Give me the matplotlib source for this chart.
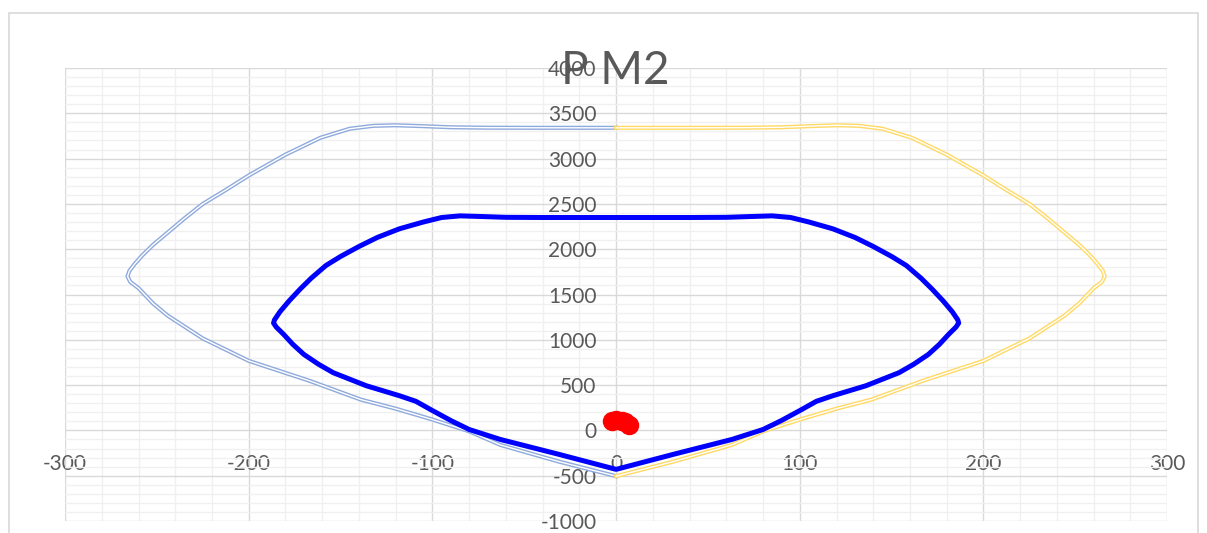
import matplotlib.pyplot as plt
from matplotlib.ticker import MultipleLocator
from matplotlib.patches import Rectangle

# outer curve, left half (M, P)
out_izq_m = [0, -40, -70, -90, -105, -120, -132, -145, -161, -180, -200, -212, -225, -235,
             -244, -252, -258, -262, -265, -266, -264.5, -260, -252, -244, -225, -200,
             -167, -139, -120, -100, -80, -63, -31, 0]
out_izq_p = [3340, 3340, 3341, 3346, 3358, 3368, 3362, 3330, 3230, 3044, 2814, 2660, 2500,
             2340, 2186, 2050, 1931, 1840, 1760, 1700, 1640, 1570, 1400, 1265, 1015, 768,
             548, 340, 240, 120, -10, -160, -345, -505]

# outer curve, right half
out_der_m = [0, 40, 70, 90, 105, 120, 132, 145, 161, 180, 200, 212, 225, 235,
             244, 252, 258, 262, 265, 266, 264.5, 260, 252, 244, 225, 200,
             167, 139, 120, 100, 80, 63, 31, 0]
out_der_p = [3340, 3340, 3341, 3346, 3358, 3368, 3362, 3330, 3230, 3044, 2814, 2660, 2500,
             2340, 2186, 2050, 1931, 1840, 1760, 1700, 1640, 1570, 1400, 1265, 1015, 768,
             548, 340, 240, 120, -10, -160, -345, -505]

# inner (design) curve, left half then right half
int_izq_m = [0, -40, -60, -75, -85, -95, -105, -118, -130, -140, -150, -158, -166, -172,
             -178, -183, -186, -186.5, -185, -181, -176, -170, -162, -154, -136, -118,
             -109, -100, -90, -80, -63, -31, 0]
int_izq_p = [2350, 2350, 2352, 2362, 2368, 2350, 2300, 2225, 2130, 2030, 1920, 1820, 1680,
             1560, 1430, 1310, 1220, 1185, 1140, 1060, 950, 839, 730, 637, 493, 383,
             321, 219, 109, 10, -100, -265, -430]
int_der_m = [0, 31, 63, 80, 90, 100, 109, 118, 136, 154, 162, 170, 176, 181, 185, 186.5,
             186, 183, 178, 172, 166, 158, 150, 140, 130, 118, 105, 95, 85, 75, 60, 40, 0]
int_der_p = [-430, -265, -100, 10, 109, 219, 321, 383, 493, 637, 730, 839, 950, 1060, 1140,
             1185, 1220, 1310, 1430, 1560, 1680, 1820, 1920, 2030, 2130, 2225, 2300, 2350,
             2368, 2362, 2352, 2350, 2350]

# load points
carga_m = [-2, 0, 3, 5, 7]
carga_p = [100, 115, 105, 90, 65]

gris = '#595959'
plt.rcParams['font.family'] = ['Lato', 'DejaVu Sans']
plt.rcParams['axes.unicode_minus'] = False

fig = plt.figure(figsize=(12.07, 5.33), dpi=100)
fig.patches.append(Rectangle((0.0075, -0.1), 0.985, 1.0756, transform=fig.transFigure,
                             fill=False, ec='#d9d9d9', lw=1.2))
ax = fig.add_axes([0.0539, 0.0225, 0.9131, 0.8499])

# double lines like the excel compound style
for m, p, c in [(out_izq_m, out_izq_p, '#8faadc'), (out_der_m, out_der_p, '#ffd966')]:
    ax.plot(m, p, color=c, lw=3.0, solid_joinstyle='round', zorder=3)
    ax.plot(m, p, color='white', lw=1.0, solid_joinstyle='round', zorder=3)

ax.plot(int_izq_m + int_der_m, int_izq_p + int_der_p, color='#0000ff', lw=3.6,
        solid_joinstyle='round', zorder=4)
ax.plot(carga_m, carga_p, linestyle='', marker='o', ms=13, color='#ff0000', zorder=5)

ax.set_xlim(-300, 300)
ax.set_ylim(-1000, 4000)
ax.xaxis.set_major_locator(MultipleLocator(100))
ax.xaxis.set_minor_locator(MultipleLocator(20))
ax.yaxis.set_major_locator(MultipleLocator(500))
ax.yaxis.set_minor_locator(MultipleLocator(100))
ax.grid(True, which='major', color='#d9d9d9', lw=1.0)
ax.grid(True, which='minor', color='#f0f0f0', lw=1.0)
ax.set_axisbelow(True)

for s in ax.spines.values():
    s.set_visible(False)
ax.spines['left'].set_position(('data', 0))
ax.spines['bottom'].set_position(('data', 0))

ax.tick_params(which='both', length=0, labelsize=15, labelcolor=gris)
ax.tick_params(axis='x', pad=17)
ax.tick_params(axis='y', pad=14)

fig.text(615 / 1207, (533 - 84) / 533, 'P M2', ha='center', va='baseline',
         fontsize=33, color=gris)

fig.savefig('out.png', dpi=100)
